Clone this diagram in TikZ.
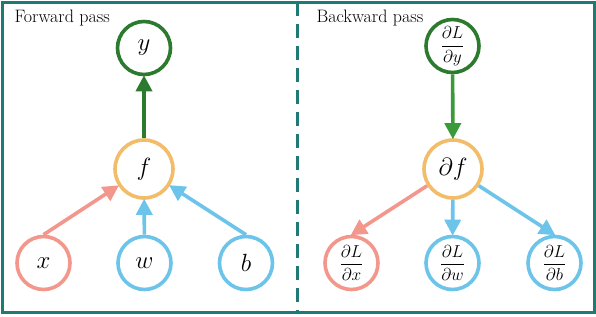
\documentclass[tikz,border=0pt]{standalone}
\usetikzlibrary{arrows.meta}
\definecolor{frameteal}{HTML}{1F7A76}
\definecolor{dgreen}{HTML}{2C7A2E}
\definecolor{lgreen}{HTML}{3A9A3A}
\definecolor{forange}{HTML}{F3BC68}
\definecolor{fpink}{HTML}{F3978D}
\definecolor{fblue}{HTML}{6CC4EA}
\newcommand{\myfrac}[2]{$\displaystyle\frac{\partial #1}{\partial #2}$}
\tikzset{
  nd/.style={circle, line width=3.6pt, minimum size=53pt, inner sep=0pt, fill=white},
  bignd/.style={nd, minimum size=58pt},
  arr/.style={line width=3.6pt, -{Triangle[length=16pt,width=16pt]}, shorten >=-1pt},
  lbl/.style={anchor=base west, font=\fontsize{18}{20}\selectfont},
  fr/.style={font=\fontsize{17}{19}\selectfont},
  let/.style={font=\fontsize{24}{26}\selectfont},
}
\begin{document}
\begin{tikzpicture}[x=1pt,y=-1pt]
\useasboundingbox (0,0) rectangle (596,316);
\fill[white] (0,0) rectangle (596,316);
\draw[frameteal, line width=3pt] (2,2) rectangle (594,312);
\draw[frameteal, line width=3pt, dash pattern=on 14pt off 8pt] (297,2) -- (297,312);

\node[lbl] (tf) at (11,22) {Forward pass};
\node[lbl] (tb) at (313,22) {Backward pass};

% forward
\node[nd, draw=dgreen, let] (y) at (144,48) {$y$};
\node[bignd, draw=forange, let] (f) at (144,169) {$f$};
\node[nd, draw=fpink, let] (x) at (43.5,263) {$x$};
\node[nd, draw=fblue, let] (w) at (144.5,263) {$w$};
\node[nd, draw=fblue, let] (b) at (246,263) {$b$};
\draw[arr, dgreen] (f) -- (y);
\draw[arr, fpink] (x.north) -- (f);
\draw[arr, fblue] (w) -- (f);
\draw[arr, fblue] (b.north) -- (f);

% backward
\node[nd, draw=dgreen, fr] (dy) at (452.5,46) {\myfrac{L}{y}};
\node[bignd, draw=forange, font=\fontsize{27}{29}\selectfont] (df) at (453,169) {$\partial f$};
\node[nd, draw=fpink, fr] (dx) at (351.5,263) {\myfrac{L}{x}};
\node[nd, draw=fblue, fr] (dw) at (452.5,263) {\myfrac{L}{w}};
\node[nd, draw=fblue, fr] (db) at (554.5,263) {\myfrac{L}{b}};
\draw[arr, lgreen] (dy) -- (df);
\draw[arr, fpink] (df) -- (dx.north);
\draw[arr, fblue] (df) -- (dw);
\draw[arr, fblue] (df) -- (db.north);
\end{tikzpicture}
\end{document}
